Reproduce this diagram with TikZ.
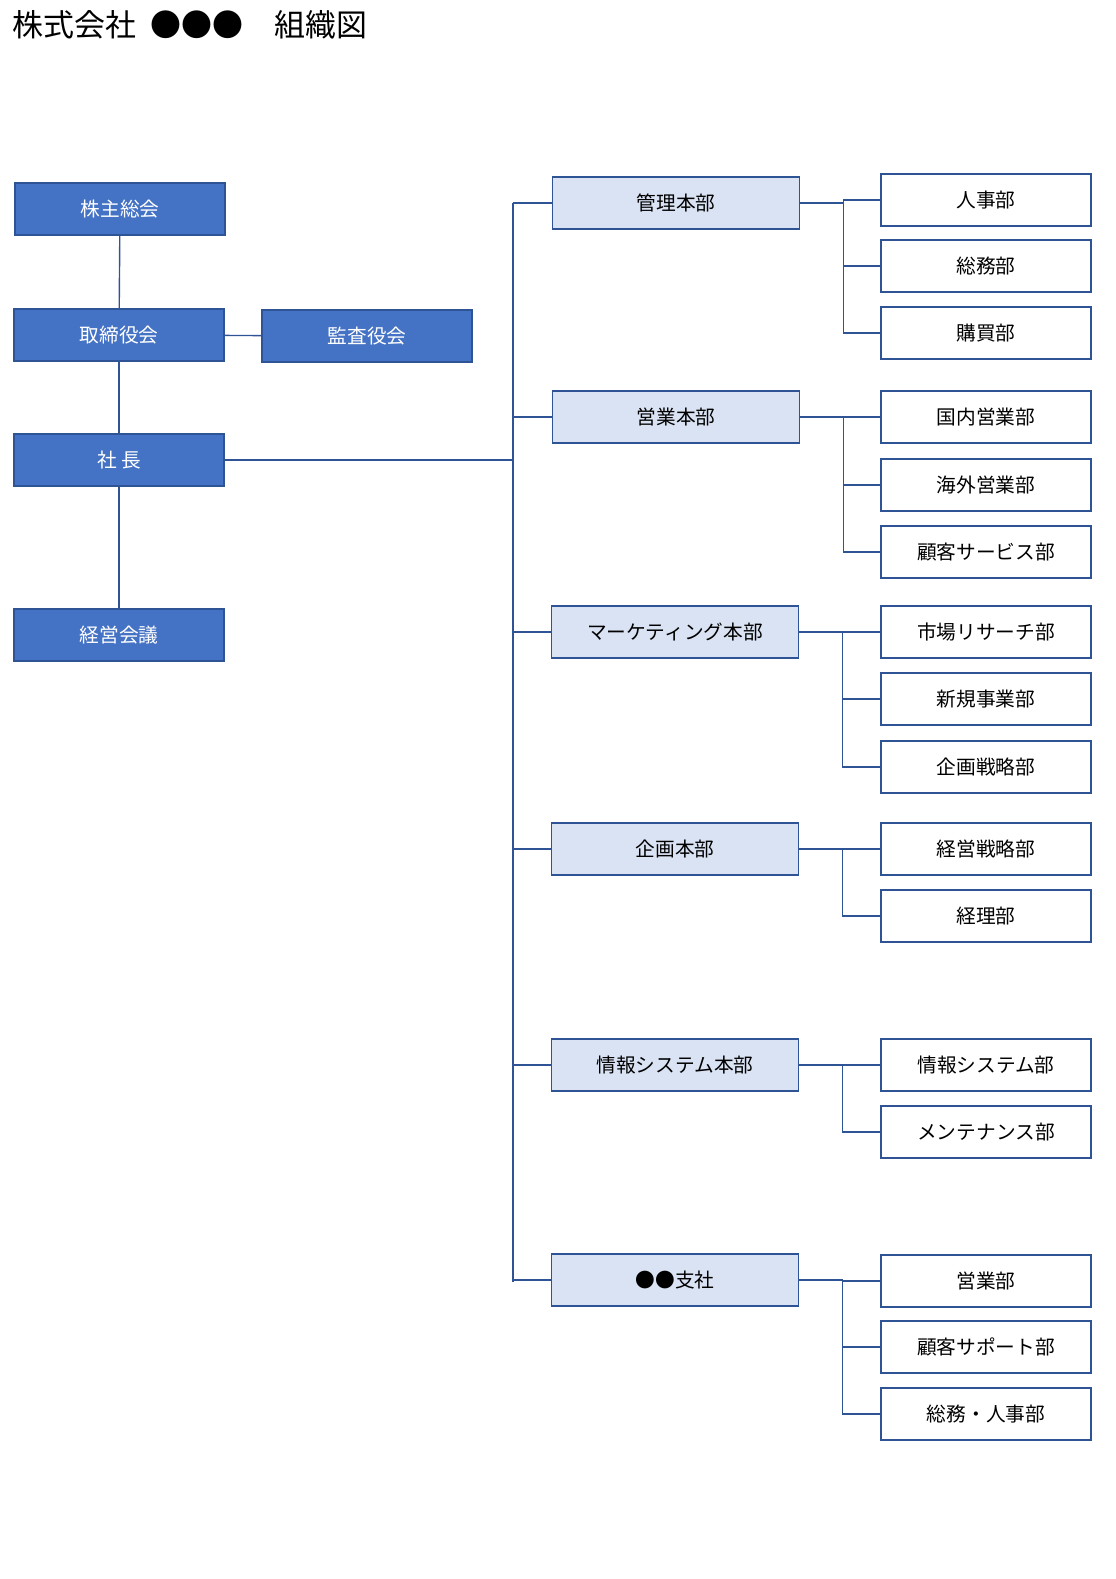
\documentclass[tikz,border=0pt]{standalone}
\usepackage{fontspec}
\setmainfont{Noto Sans CJK JP}
\definecolor{dark}{HTML}{4472C4}
\definecolor{pale}{HTML}{DAE3F3}
\definecolor{edge}{HTML}{2F5496}
\tikzset{
  top/.style={draw=edge, line width=1.2pt, fill=dark, text=white, minimum width=210*0.025cm, minimum height=52*0.025cm, font=\fontsize{14}{16}\selectfont},
  head/.style={draw=edge, line width=1.2pt, fill=pale, minimum width=247*0.025cm, minimum height=52*0.025cm, font=\fontsize{14}{16}\selectfont},
  dept/.style={draw=edge, line width=1.2pt, fill=white, minimum width=210*0.025cm, minimum height=52*0.025cm, font=\fontsize{14}{16}\selectfont},
  link/.style={draw=edge, line width=1pt}
}
\begin{document}
\begin{tikzpicture}[x=0.025cm, y=-0.025cm]
\useasboundingbox (0,0) rectangle (1116,1579);
\node[anchor=west, font=\fontsize{22}{24}\selectfont] (title) at (8,25) {株式会社\ \ ●●●\quad 組織図};

\node[top] (soukai) at (120,209) {株主総会};
\node[top] (torishimari) at (119,335) {取締役会};
\node[top] (kansa) at (367,336) {監査役会};
\node[top] (shacho) at (119,460) {社\ 長};
\node[top] (keiei) at (119,635) {経営会議};

\draw[link] (soukai) -- (torishimari);
\draw[link] (torishimari) -- (shacho);
\draw[link] (shacho) -- (keiei);
\draw[link] (torishimari) -- (kansa);

\node[head] (kanri) at (676,203) {管理本部};
\node[head] (eigyo) at (676,417) {営業本部};
\node[head] (marketing) at (675,632) {マーケティング本部};
\node[head] (kikaku) at (675,849) {企画本部};
\node[head] (joho) at (675,1065) {情報システム本部};
\node[head] (shisha) at (675,1280) {●●支社};

\coordinate (trunk top) at (513,203);
\coordinate (trunk bottom) at (513,1282);
\draw[link] (trunk top) -- (trunk bottom);
\draw[link] (shacho.east) -- (shacho.east -| trunk top);
\foreach \h in {kanri, eigyo, marketing, kikaku, joho, shisha}
  \draw[link] (\h.west) -- (\h.west -| trunk top);

% departments
\foreach \name/\y/\txt/\h in {
  jinji/200/人事部/kanri, somu/266/総務部/kanri, kobai/333/購買部/kanri,
  kokunai/417/国内営業部/eigyo, kaigai/485/海外営業部/eigyo, kokyaku/552/顧客サービス部/eigyo,
  shijo/632/市場リサーチ部/marketing, shinki/699/新規事業部/marketing, senryaku/767/企画戦略部/marketing,
  keieisen/849/経営戦略部/kikaku, keiri/916/経理部/kikaku,
  johosys/1065/情報システム部/joho, maint/1132/メンテナンス部/joho,
  seigyo/1281/営業部/shisha, support/1347/顧客サポート部/shisha, somujinji/1414/総務・人事部/shisha} {
  \node[dept] (\name) at (986,\y) {\txt};
  \draw[link] (\h.east) -- ++(43,0) |- (\name.west);
}
\end{tikzpicture}
\end{document}
